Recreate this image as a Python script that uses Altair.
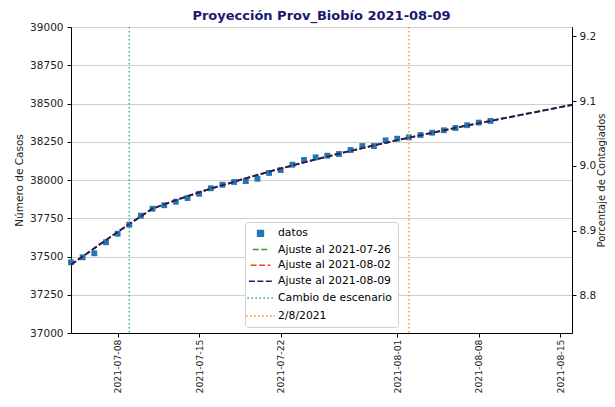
import altair as alt
import pandas as pd

# ---------------- data ----------------
fechas_datos = [d.strftime("%Y-%m-%d") for d in pd.date_range("2021-07-04", "2021-08-09", freq="D")]
casos = [37462, 37495, 37521, 37593, 37649, 37708, 37767, 37812, 37835, 37858,
         37882, 37910, 37946, 37969, 37987, 37993, 38008, 38046, 38065, 38100,
         38131, 38148, 38159, 38170, 38196, 38222, 38222, 38259, 38270, 38279,
         38294, 38309, 38325, 38340, 38358, 38375, 38386]

fechas_ajuste = [d.strftime("%Y-%m-%d") for d in pd.date_range("2021-07-04", "2021-08-16", freq="D")]
ajuste_0809 = [37447, 37500, 37554, 37607, 37660, 37712, 37763, 37813, 37841, 37868,
               37894, 37919, 37943, 37966, 37989, 38011, 38033, 38054, 38075, 38095,
               38115, 38134, 38153, 38172, 38190, 38208, 38226, 38243, 38260, 38277,
               38293, 38309, 38325, 38341, 38356, 38371, 38386, 38401, 38416, 38431,
               38446, 38461, 38476, 38491]
ajuste_0802 = [37447, 37500, 37554, 37607, 37660, 37712, 37763, 37813, 37841, 37868,
               37894, 37919, 37943, 37966, 37989, 38011, 38033, 38054, 38075, 38095,
               38115, 38134, 38153, 38172, 38190, 38208, 38226, 38243, 38260, 38277,
               38293, 38309, 38325, 38341, 38357, 38372, 38387, 38402, 38417, 38432,
               38447, 38462, 38477, 38492]
ajuste_0726 = [37447, 37500, 37554, 37607, 37660, 37712, 37763, 37813, 37841, 37868,
               37894, 37919, 37943, 37966, 37989, 38011, 38033, 38054, 38075, 38095,
               38115, 38134, 38153, 38172, 38190, 38208, 38226, 38243, 38260, 38277,
               38293, 38309, 38325, 38341, 38356, 38371, 38386, 38401, 38416, 38431,
               38446, 38461, 38476, 38491]

fechas_eventos = ["2021-07-09", "2021-08-02"]
nombres_eventos = ["Cambio de escenario", "2/8/2021"]

poblacion = 423250

series = ["datos", "Ajuste al 2021-07-26", "Ajuste al 2021-08-02", "Ajuste al 2021-08-09",
          "Cambio de escenario", "2/8/2021"]
colores = ["#1f77b4", "#2ca02c", "#ff4500", "#1c1c72", "#1fa0b4", "#ff8c1a"]
dashes = [[1, 0], [6, 2.5], [6, 2.5], [6, 2.5], [1.5, 2.5], [1.5, 2.5]]
line_sym = "M-1.7,0H1.7"
shapes = ["square", line_sym, line_sym, line_sym, line_sym, line_sym]
sizes = [34, 289, 289, 289, 289, 289]

# ---------------- tables ----------------
df_datos = pd.DataFrame({"fecha": fechas_datos, "casos": casos, "serie": "datos"})
df_datos["pct"] = [c / poblacion * 100 for c in casos]

df_aj = pd.concat([
    pd.DataFrame({"fecha": fechas_ajuste, "casos": ajuste_0726, "serie": "Ajuste al 2021-07-26"}),
    pd.DataFrame({"fecha": fechas_ajuste, "casos": ajuste_0802, "serie": "Ajuste al 2021-08-02"}),
    pd.DataFrame({"fecha": fechas_ajuste, "casos": ajuste_0809, "serie": "Ajuste al 2021-08-09"}),
])
df_ev = pd.DataFrame({"fecha": fechas_eventos, "serie": nombres_eventos})

# ---------------- encodings ----------------
x_enc = alt.X(
    "fecha:T",
    scale=alt.Scale(type="utc",
                    domain=[alt.DateTime(year=2021, month=7, date=4, utc=True),
                            alt.DateTime(year=2021, month=8, date=16, utc=True)]),
    axis=alt.Axis(
        title=None, grid=False, labelAngle=270, format="%Y-%m-%d", labelPadding=2,
        labelFontSize=9.3,
        values=[alt.DateTime(year=2021, month=7, date=8, utc=True),
                alt.DateTime(year=2021, month=7, date=15, utc=True),
                alt.DateTime(year=2021, month=7, date=22, utc=True),
                alt.DateTime(year=2021, month=8, date=1, utc=True),
                alt.DateTime(year=2021, month=8, date=8, utc=True),
                alt.DateTime(year=2021, month=8, date=15, utc=True)],
    ),
)

y_axis = alt.Axis(title="Número de Casos", values=list(range(37000, 39001, 250)), format="d",
                  grid=True, gridColor="#cfcfcf", gridWidth=1, labelPadding=4, titlePadding=5)
y_enc = alt.Y("casos:Q", scale=alt.Scale(domain=[37000, 39000], nice=False, zero=False), axis=y_axis)

legend = alt.Legend(orient="none", legendX=174, legendY=195, title=None,
                    fillColor="white", strokeColor="#d0d0d0", cornerRadius=3,
                    padding=6, labelFontSize=10.8, labelOffset=8, rowPadding=3.1,
                    symbolStrokeWidth=1.5)

color_enc = alt.Color("serie:N", scale=alt.Scale(domain=series, range=colores), legend=legend)
dash_enc = alt.StrokeDash("serie:N", scale=alt.Scale(domain=series, range=dashes), legend=legend)

puntos = alt.Chart(df_datos).mark_point(filled=True, opacity=1).encode(
    x=x_enc, y=y_enc, color=color_enc,
    shape=alt.Shape("serie:N", scale=alt.Scale(domain=series, range=shapes), legend=legend),
    size=alt.Size("serie:N", scale=alt.Scale(domain=series, range=sizes), legend=legend),
)

lineas = alt.Chart(df_aj).mark_line(strokeWidth=1.8).encode(
    x=x_enc, y=y_enc, color=color_enc, strokeDash=dash_enc,
    order=alt.Order("serie:N"),
)

reglas = alt.Chart(df_ev).mark_rule(strokeWidth=1.3).encode(
    x=x_enc, color=color_enc, strokeDash=dash_enc,
)

izquierda = alt.layer(puntos, lineas, reglas)

derecha = alt.Chart(df_datos).mark_point(opacity=0).encode(
    x=x_enc,
    y=alt.Y("pct:Q",
            scale=alt.Scale(domain=[37000 / poblacion * 100, 39000 / poblacion * 100], nice=False, zero=False),
            axis=alt.Axis(orient="right", title="Porcentaje de Contagiados", titleAngle=270,
                          titleBaseline="top", titleFontSize=10,
                          values=[8.8, 8.9, 9.0, 9.1, 9.2], format=".1f", grid=False,
                          labelPadding=3, titlePadding=1)),
)

chart = alt.layer(izquierda, derecha).resolve_scale(y="independent").properties(
    width=501, height=306,
    title=alt.TitleParams("Proyección Prov_Biobío 2021-08-09", fontSize=13, fontWeight="bold",
                          color="#191970", offset=0, dy=1),
    autosize=alt.AutoSizeParams(type="none"),
    padding={"left": 63, "top": 19, "right": 35, "bottom": 66},
).configure(font="DejaVu Sans").configure_view(
    stroke="black", strokeWidth=1
).configure_axis(
    labelFontSize=10.5, titleFontSize=10.5, titleFontWeight="normal", labelColor="#222",
    titleColor="#222", domainColor="black", tickColor="black", tickSize=4,
).configure_title(font="DejaVu Sans")

chart.save("out.html", embed_options={"renderer": "svg", "actions": False})
